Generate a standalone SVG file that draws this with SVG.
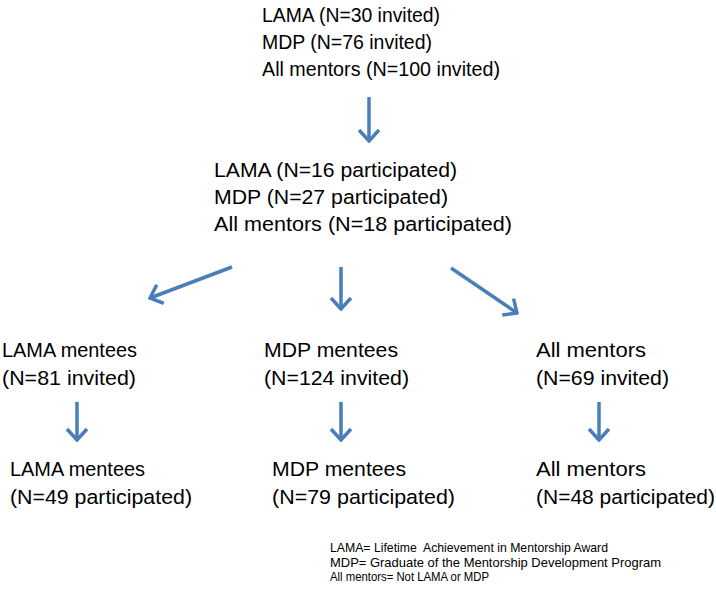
<svg xmlns="http://www.w3.org/2000/svg" width="716" height="590" viewBox="0 0 716 590">
<style>
text{font-family:"Liberation Sans",Arial,sans-serif;font-size:20.5px;fill:#000}
.leg{font-size:13px}
.arr{stroke:#4a7ebb;stroke-width:3.5;fill:none;marker-end:url(#ah)}
</style>
<defs>
<marker id="ah" markerUnits="userSpaceOnUse" viewBox="-14 -12 16 24" refX="0" refY="0" markerWidth="16" markerHeight="24" orient="auto">
<path d="M-11,-10 L0,0 L-11,10" fill="none" stroke="#4a7ebb" stroke-width="3.5"/>
</marker>
</defs>
<rect width="716" height="590" fill="#fff"/>
<g id="invited-mentors">
<text x="262" y="22" textLength="178" lengthAdjust="spacingAndGlyphs">LAMA (N=30 invited)</text>
<text x="262" y="49" textLength="170" lengthAdjust="spacingAndGlyphs">MDP (N=76 invited)</text>
<text x="262" y="76" textLength="238" lengthAdjust="spacingAndGlyphs">All mentors (N=100 invited)</text>
</g>
<g id="participated-mentors">
<text x="214" y="177" textLength="243" lengthAdjust="spacingAndGlyphs">LAMA (N=16 participated)</text>
<text x="214" y="204" textLength="234" lengthAdjust="spacingAndGlyphs">MDP (N=27 participated)</text>
<text x="214" y="231" textLength="298" lengthAdjust="spacingAndGlyphs">All mentors (N=18 participated)</text>
</g>
<g id="lama-invited">
<text x="2" y="357" textLength="135" lengthAdjust="spacingAndGlyphs">LAMA mentees</text>
<text x="2" y="385" textLength="134" lengthAdjust="spacingAndGlyphs">(N=81 invited)</text>
</g>
<g id="mdp-invited">
<text x="264" y="357" textLength="134" lengthAdjust="spacingAndGlyphs">MDP mentees</text>
<text x="264" y="385" textLength="145" lengthAdjust="spacingAndGlyphs">(N=124 invited)</text>
</g>
<g id="all-invited">
<text x="536" y="357" textLength="110" lengthAdjust="spacingAndGlyphs">All mentors</text>
<text x="536" y="385" textLength="133" lengthAdjust="spacingAndGlyphs">(N=69 invited)</text>
</g>
<g id="lama-participated">
<text x="10" y="476" textLength="135" lengthAdjust="spacingAndGlyphs">LAMA mentees</text>
<text x="10" y="504" textLength="182" lengthAdjust="spacingAndGlyphs">(N=49 participated)</text>
</g>
<g id="mdp-participated">
<text x="272" y="476" textLength="134" lengthAdjust="spacingAndGlyphs">MDP mentees</text>
<text x="272" y="504" textLength="183" lengthAdjust="spacingAndGlyphs">(N=79 participated)</text>
</g>
<g id="all-participated">
<text x="536" y="476" textLength="110" lengthAdjust="spacingAndGlyphs">All mentors</text>
<text x="536" y="504" textLength="179" lengthAdjust="spacingAndGlyphs">(N=48 participated)</text>
</g>
<g id="legend">
<text class="leg" x="330" y="552" textLength="278" lengthAdjust="spacingAndGlyphs" xml:space="preserve">LAMA= Lifetime  Achievement in Mentorship Award</text>
<text class="leg" x="330" y="566.5" textLength="331" lengthAdjust="spacingAndGlyphs">MDP= Graduate of the Mentorship Development Program</text>
<text class="leg" x="330" y="581" textLength="159" lengthAdjust="spacingAndGlyphs">All mentors= Not LAMA or MDP</text>
</g>
<g id="connectors">
<line class="arr" x1="369" y1="97" x2="369" y2="141"/>
<line class="arr" x1="232" y1="267" x2="150" y2="298"/>
<line class="arr" x1="341" y1="267" x2="341" y2="309"/>
<line class="arr" x1="451" y1="268" x2="517" y2="313"/>
<line class="arr" x1="77" y1="402" x2="77" y2="440"/>
<line class="arr" x1="341" y1="402" x2="341" y2="440"/>
<line class="arr" x1="599" y1="402" x2="599" y2="440"/>
</g>
</svg>
